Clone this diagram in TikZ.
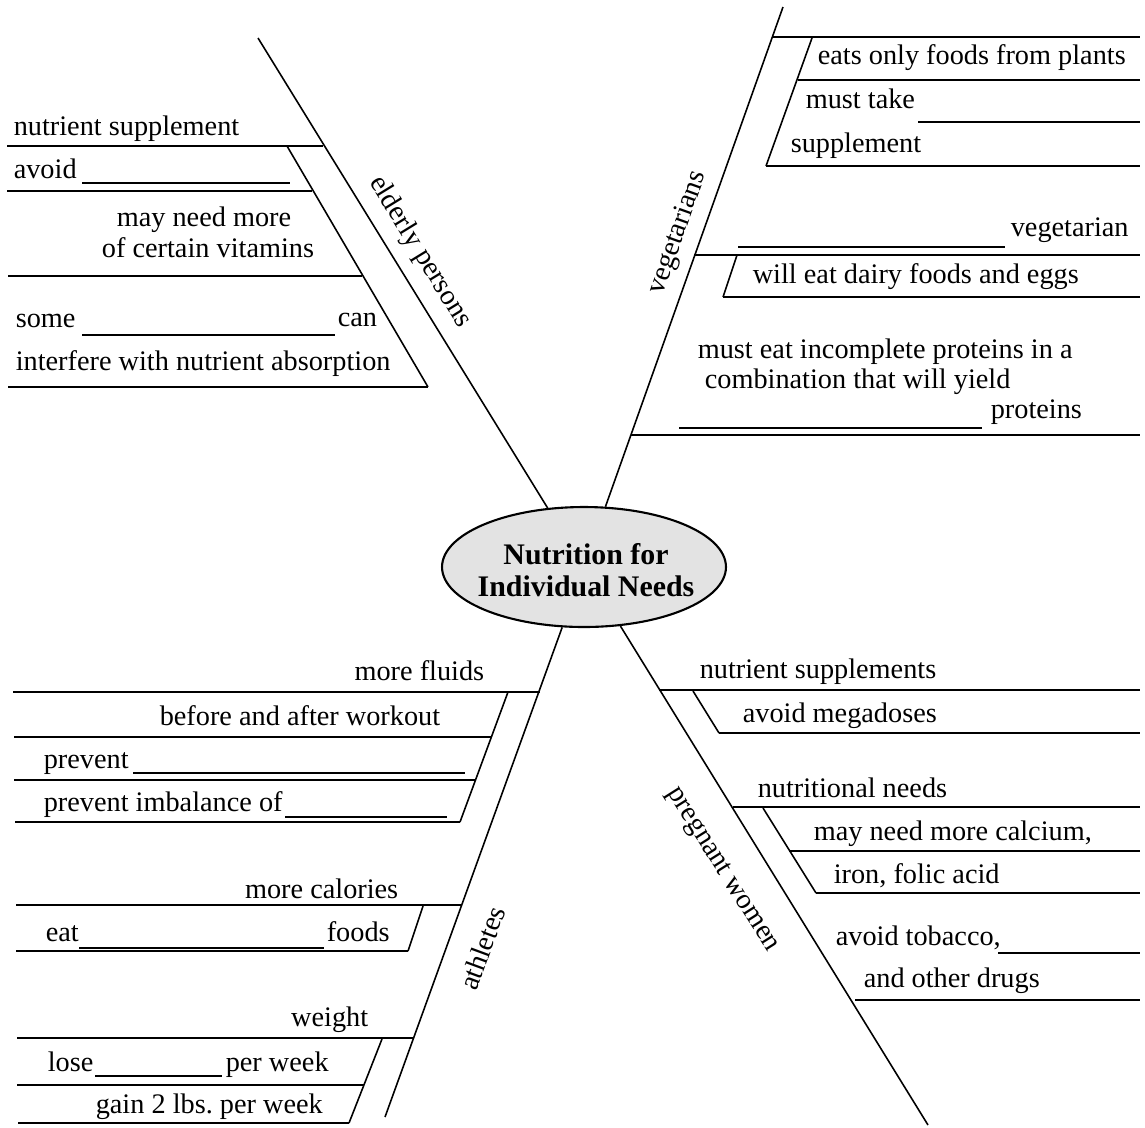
\documentclass[tikz,border=0pt]{standalone}
\usepackage{fontspec}
\setmainfont{Liberation Serif}
\usetikzlibrary{shapes.geometric}
\begin{document}
\begin{tikzpicture}[x=0.02cm,y=-0.02cm,line width=0.9pt,
  every node/.style={font=\fontsize{16.1}{19}\selectfont,inner sep=0pt},
  txt/.style={anchor=base west},
  txtr/.style={anchor=base east},
  hub/.style={ellipse,draw,line width=1.2pt,fill=gray!22,minimum width=5.68cm,minimum height=2.4cm}]
\useasboundingbox (0,0) rectangle (1145,1127);
% centre
\node[hub] (hub) at (584,567) {};
\node[font=\fontsize{17}{18.2}\selectfont\bfseries,align=center] (title) at (586,570) {Nutrition for\\Individual Needs};
% spokes
\coordinate (eldTop) at (258,38);
\coordinate (vegTop) at (783,7);
\coordinate (athEnd) at (385,1117);
\coordinate (pregEnd) at (928,1125);
\draw (eldTop) -- (hub);
\draw (vegTop) -- (hub);
\draw (athEnd) -- (hub);
\draw (pregEnd) -- (hub);
\node[rotate=-58.4] (eld) at (420,252) {elderly persons};
\node[rotate=70.4] (veg) at (678,233) {vegetarians};
\node[rotate=69.8] (ath) at (482,948) {athletes};
\node[rotate=-57.7] (preg) at (722,870) {pregnant women};

% elderly persons
\draw (7,146) -- (323,146);
\draw (287,146) -- (428,387);
\draw (7,191) -- (312,191);
\draw (8,276) -- (362,276);
\draw (8,387) -- (428,387);
\draw (82,183) -- (290,183);
\draw (82,335) -- (335,335);
\node[txt] (e1) at (13,135) {nutrient supplement};
\node[txt] (e2) at (13,178) {avoid};
\node[anchor=base] (e3) at (204,226) {may need more};
\node[anchor=base] (e4) at (208,257) {of certain vitamins};
\node[txt] (e5) at (15,327) {some};
\node[txt] (e6) at (337,326) {can};
\node[txt] (e7) at (15,370) {interfere with nutrient absorption};

% vegetarians
\draw (772,37) -- (1140,37);
\draw (812,38) -- (766,166);
\draw (798,80) -- (1140,80);
\draw (918,122) -- (1140,122);
\draw (766,166) -- (1140,166);
\draw (694,255) -- (1140,255);
\draw (738,247) -- (1005,247);
\draw (737,255) -- (723,297);
\draw (723,297) -- (1140,297);
\draw (631,435) -- (1140,435);
\draw (679,428) -- (982,428);
\node[txt] (v1) at (817,64) {eats only foods from plants};
\node[txt] (v2) at (805,108) {must take};
\node[txt] (v3) at (790,152) {supplement};
\node[txt] (v4) at (1010,236) {vegetarian};
\node[txt] (v5) at (752,283) {will eat dairy foods and eggs};
\node[txt] (v6) at (697,358) {must eat incomplete proteins in a};
\node[txt] (v7) at (704,388) {combination that will yield};
\node[txt] (v8) at (990,418) {proteins};

% athletes
\draw (13,692) -- (540,692);
\draw (508,692) -- (460,822);
\draw (14,737) -- (492,737);
\draw (14,780) -- (476,780);
\draw (15,822) -- (460,822);
\draw (133,773) -- (465,773);
\draw (285,817) -- (447,817);
\draw (16,905) -- (462,905);
\draw (423,906) -- (408,951);
\draw (16,951) -- (408,951);
\draw (79,948) -- (324,948);
\draw (17,1038) -- (413,1038);
\draw (382,1039) -- (349,1123);
\draw (17,1085) -- (364,1085);
\draw (18,1123) -- (349,1123);
\draw (95,1076) -- (222,1076);
\node[txtr] (a1) at (485,680) {more fluids};
\node[txt] (a2) at (159,725) {before and after workout};
\node[txt] (a3) at (43,768) {prevent};
\node[txt] (a4) at (43,811) {prevent imbalance of};
\node[txtr] (a5) at (399,898) {more calories};
\node[txt] (a6) at (45,941) {eat};
\node[txt] (a7) at (326,941) {foods};
\node[txtr] (a8) at (369,1026) {weight};
\node[txt] (a9) at (47,1071) {lose};
\node[txt] (a10) at (225,1071) {per week};
\node[txt] (a11) at (95,1113) {gain 2 lbs.\ per week};

% pregnant women
\draw (659,690) -- (1140,690);
\draw (693,691) -- (719,733);
\draw (719,733) -- (1140,733);
\draw (733,807) -- (1140,807);
\draw (763,808) -- (816,893);
\draw (789,851) -- (1140,851);
\draw (816,893) -- (1140,893);
\draw (998,953) -- (1140,953);
\draw (855,1000) -- (1140,1000);
\node[txt] (p1) at (699,678) {nutrient supplements};
\node[txt] (p2) at (742,722) {avoid megadoses};
\node[txt] (p3) at (757,797) {nutritional needs};
\node[txt] (p4) at (813,840) {may need more calcium,};
\node[txt] (p5) at (833,883) {iron, folic acid};
\node[txt] (p6) at (835,945) {avoid tobacco,};
\node[txt] (p7) at (863,987) {and other drugs};
\end{tikzpicture}
\end{document}
